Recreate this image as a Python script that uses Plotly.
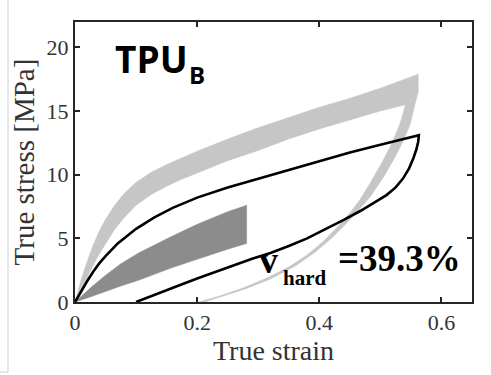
import plotly.graph_objects as go

# ---- data ----
# light-grey band: loading (upper / lower edges) and unloading (outer / inner edges)
light_up_x = [0, 0.005, 0.01, 0.02, 0.03, 0.04, 0.05, 0.065, 0.08, 0.1, 0.125, 0.15, 0.175, 0.2, 0.25, 0.3, 0.35, 0.4, 0.45, 0.5, 0.562]
light_up_y = [0, 0.9, 1.75, 3.2, 4.5, 5.6, 6.5, 7.6, 8.5, 9.4, 10.2, 10.8, 11.35, 11.85, 12.8, 13.7, 14.5, 15.3, 16.0, 16.8, 17.9]
light_lo_x = [0, 0.01, 0.02, 0.03, 0.04, 0.05, 0.065, 0.08, 0.1, 0.125, 0.15, 0.175, 0.2, 0.25, 0.3, 0.35, 0.4, 0.45, 0.5, 0.541]
light_lo_y = [0, 0.95, 1.9, 2.9, 3.8, 4.6, 5.7, 6.6, 7.6, 8.45, 9.1, 9.65, 10.15, 11.1, 11.9, 12.8, 13.6, 14.3, 15.0, 15.5]
light_unl_out_x = [0.562, 0.557, 0.549, 0.538, 0.522, 0.505, 0.484, 0.466, 0.445, 0.42, 0.393, 0.36, 0.32, 0.28, 0.24, 0.212]
light_unl_out_y = [16.5, 15.6, 14.0, 12.7, 11.2, 9.8, 8.3, 7.3, 6.2, 5.0, 3.9, 2.8, 1.8, 1.05, 0.45, 0]
light_unl_in_x = [0.203, 0.235, 0.275, 0.315, 0.35, 0.38, 0.405, 0.43, 0.45, 0.466, 0.484, 0.503, 0.52, 0.532, 0.541]
light_unl_in_y = [0, 0.45, 1.1, 1.9, 2.75, 3.7, 4.7, 5.9, 7.0, 8.0, 9.4, 11.0, 12.6, 14.0, 15.5]

# dark-grey band (loading only)
dark_up_x = [0, 0.025, 0.05, 0.075, 0.104, 0.13, 0.156, 0.2, 0.227, 0.25, 0.281]
dark_up_y = [0, 1.1, 2.1, 3.0, 3.85, 4.5, 5.1, 6.1, 6.65, 7.1, 7.6]
dark_lo_x = [0, 0.025, 0.05, 0.075, 0.104, 0.13, 0.156, 0.2, 0.227, 0.25, 0.281]
dark_lo_y = [0, 0.4, 0.8, 1.25, 1.7, 2.15, 2.65, 3.35, 3.8, 4.15, 4.6]

# black hysteresis loop
black_load_x = [0, 0.01, 0.02, 0.03, 0.04, 0.05, 0.07, 0.1, 0.13, 0.16, 0.2, 0.25, 0.3, 0.35, 0.4, 0.45, 0.5, 0.563]
black_load_y = [0, 0.85, 1.65, 2.4, 3.05, 3.6, 4.6, 5.75, 6.65, 7.4, 8.2, 9.0, 9.7, 10.4, 11.1, 11.75, 12.35, 13.1]
black_unl_x = [0.563, 0.562, 0.559, 0.554, 0.547, 0.537, 0.525, 0.51, 0.49, 0.467, 0.44, 0.41, 0.38, 0.35, 0.32, 0.29, 0.26, 0.23, 0.2, 0.17, 0.14, 0.1]
black_unl_y = [13.1, 12.6, 12.0, 11.3, 10.5, 9.7, 9.0, 8.4, 7.8, 7.15, 6.45, 5.7, 5.0, 4.4, 3.85, 3.4, 2.9, 2.4, 1.85, 1.3, 0.75, 0]

x_ticks = [0, 0.2, 0.4, 0.6]
x_tick_text = ["0", "0.2", "0.4", "0.6"]
y_ticks = [0, 5, 10, 15, 20]
y_tick_text = ["0", "5", "10", "15", "20"]

LIGHT = "#c6c6c6"
DARK = "#8c8c8c"

fig = go.Figure()

# light band polygon
lx = light_up_x + light_unl_out_x + light_unl_in_x + light_lo_x[::-1]
ly = light_up_y + light_unl_out_y + light_unl_in_y + light_lo_y[::-1]
fig.add_trace(go.Scatter(x=lx, y=ly, mode="lines", fill="toself", fillcolor=LIGHT,
                         line=dict(color=LIGHT, width=0.5),
                         hoverinfo="skip", showlegend=False))

# dark band polygon
dx = dark_up_x + dark_lo_x[::-1]
dy = dark_up_y + dark_lo_y[::-1]
fig.add_trace(go.Scatter(x=dx, y=dy, mode="lines", fill="toself", fillcolor=DARK,
                         line=dict(color=DARK, width=0.5),
                         hoverinfo="skip", showlegend=False))

# black loop
fig.add_trace(go.Scatter(x=black_load_x + black_unl_x[1:], y=black_load_y + black_unl_y[1:],
                         mode="lines", line=dict(color="black", width=2.6),
                         hoverinfo="skip", showlegend=False))

axis_common = dict(showline=True, linecolor="#262626", linewidth=2, mirror="allticks",
                   ticks="inside", ticklen=5, tickwidth=1.5, tickcolor="#262626",
                   showgrid=False, zeroline=False,
                   tickfont=dict(family="Liberation Serif", size=22, color="#333333"),
                   automargin=False)

fig.update_xaxes(range=[0, 0.65], tickvals=x_ticks, ticktext=x_tick_text,
                 title=dict(text="True strain", font=dict(family="Liberation Serif", size=28, color="#333333"),
                            standoff=6),
                 **axis_common)
fig.update_yaxes(range=[0, 22], tickvals=y_ticks, ticktext=y_tick_text,
                 title=dict(text="True stress [MPa]", font=dict(family="Liberation Serif", size=29, color="#333333"),
                            standoff=3),
                 **axis_common)

# annotations
fig.add_annotation(x=0.062, y=19.1, xref="x", yref="y", text="<b>TPU</b>", showarrow=False,
                   xanchor="left", yanchor="middle",
                   font=dict(family="Open Sans", size=37, color="black"))
fig.add_annotation(x=0.183, y=17.9, xref="x", yref="y", text="<b>B</b>", showarrow=False,
                   xanchor="left", yanchor="middle",
                   font=dict(family="Open Sans", size=24, color="black"))
fig.add_annotation(x=0.298, y=3.3, xref="x", yref="y", text="<b>v</b>", showarrow=False,
                   xanchor="left", yanchor="middle",
                   font=dict(family="Liberation Serif", size=38, color="black"))
fig.add_annotation(x=0.338, y=1.9, xref="x", yref="y", text="<b>hard</b>", showarrow=False,
                   xanchor="left", yanchor="middle",
                   font=dict(family="Liberation Serif", size=21, color="black"))
fig.add_annotation(x=0.428, y=3.4, xref="x", yref="y", text="<b>=39.3%</b>", showarrow=False,
                   xanchor="left", yanchor="middle",
                   font=dict(family="Liberation Serif", size=37, color="black"))

# thin grey frame remnants at left/bottom of the image
fig.add_shape(type="line", xref="paper", yref="paper",
              x0=(8 - 75) / 397, x1=(8 - 75) / 397, y0=(302 - 372) / 280, y1=(302 - 0) / 280,
              line=dict(color="#cfcfcf", width=1))
fig.add_shape(type="line", xref="paper", yref="paper",
              x0=(0 - 75) / 397, x1=(8 - 75) / 397, y0=(302 - 372) / 280, y1=(302 - 372) / 280,
              line=dict(color="#cfcfcf", width=1))

fig.update_layout(width=491, height=375, margin=dict(l=75, r=19, t=22, b=73),
                  paper_bgcolor="white", plot_bgcolor="white")

fig.write_html("out.html")
